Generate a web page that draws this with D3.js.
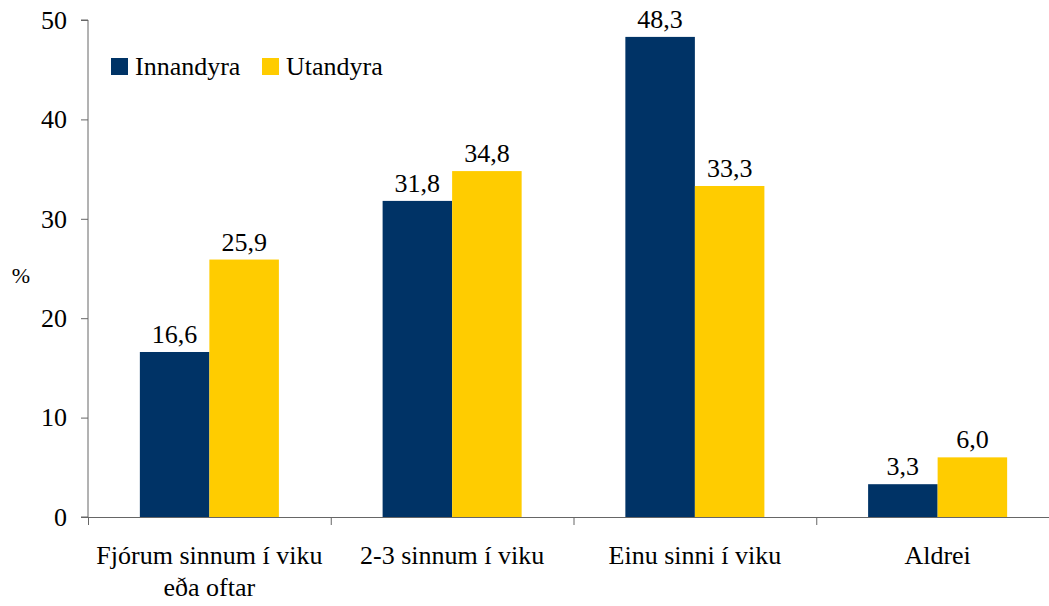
<!DOCTYPE html>
<html><head><meta charset="utf-8">
<script src="https://cdn.jsdelivr.net/npm/d3@7"></script>
<style>body{margin:0;background:#fff;}</style>
</head><body>
<svg id="c" width="1049" height="606"></svg>
<script>
const categories = [["Fjórum sinnum í viku","eða oftar"],["2-3 sinnum í viku"],["Einu sinni í viku"],["Aldrei"]];
const series = ["Innandyra","Utandyra"];
const innandyra = [16.6, 31.8, 48.3, 3.3];
const utandyra = [25.9, 34.8, 33.3, 6.0];
const yTicks = [0,10,20,30,40,50];
const colors = ["#003366","#FFCC00"];

(function(){
const FONT = '"Liberation Serif"';
const FS = 26;
const svg = d3.select("#c");
const W = 1049, H = 606;
const mLeft = 88, mRight = 1059, mTop = 20, mBottom = 517;
const catKeys = categories.map((d,i)=>i);
const x0 = d3.scaleBand().domain(catKeys).range([mLeft,mRight]).padding(0);
const x1 = d3.scaleBand().domain(series).range([0,x0.bandwidth()]).paddingInner(0).paddingOuter(0.746);
const y = d3.scaleLinear().domain([0,50]).range([mBottom,mTop]);
const vals = [innandyra, utandyra];
const fmt = v => v.toFixed(1).replace(".",",");

catKeys.forEach(i=>{
  series.forEach((s,j)=>{
    const v = vals[j][i];
    svg.append("rect").attr("x",x0(i)+x1(s)).attr("y",y(v)).attr("width",x1.bandwidth()).attr("height",y(0)-y(v)).attr("fill",colors[j]);
    svg.append("text").attr("x",x0(i)+x1(s)+x1.bandwidth()/2).attr("y",y(v)-9).attr("text-anchor","middle").attr("font-family",FONT).attr("font-size",FS).attr("fill","#000").text(fmt(v));
  });
});

const ya = svg.append("g").attr("transform",`translate(${mLeft},0)`).call(d3.axisLeft(y).tickValues(yTicks).tickSize(7).tickPadding(14).tickFormat(d3.format("d")));
ya.attr("font-family",FONT).attr("font-size",FS);
ya.select(".domain").attr("stroke","#666").attr("d",`M-7,${mTop}H0V${mBottom}H-7`);
ya.selectAll(".tick line").attr("stroke","#666");
ya.selectAll(".tick text").attr("fill","#000");

const xa = svg.append("g");
xa.append("line").attr("x1",mLeft).attr("x2",W).attr("y1",mBottom+0.5).attr("y2",mBottom+0.5).attr("stroke","#666");
catKeys.forEach(i=>{
  xa.append("line").attr("x1",x0(i)+0.5).attr("x2",x0(i)+0.5).attr("y1",mBottom).attr("y2",mBottom+8).attr("stroke","#666");
  const t = xa.append("text").attr("text-anchor","middle").attr("font-family",FONT).attr("font-size",FS).attr("fill","#000");
  categories[i].forEach((line,k)=>{
    t.append("tspan").attr("x",x0(i)+x0.bandwidth()/2).attr("y",564+k*32).text(line);
  });
});

svg.append("text").attr("x",21).attr("y",283).attr("text-anchor","middle").attr("font-family",FONT).attr("font-size",22).attr("fill","#000").text("%");

const lx = [111, 262];
series.forEach((s,j)=>{
  svg.append("rect").attr("x",lx[j]).attr("y",58).attr("width",17).attr("height",17).attr("fill",colors[j]);
  svg.append("text").attr("x",lx[j]+24).attr("y",75).attr("font-family",FONT).attr("font-size",FS).attr("fill","#000").text(s);
});
})();
</script>
</body></html>
